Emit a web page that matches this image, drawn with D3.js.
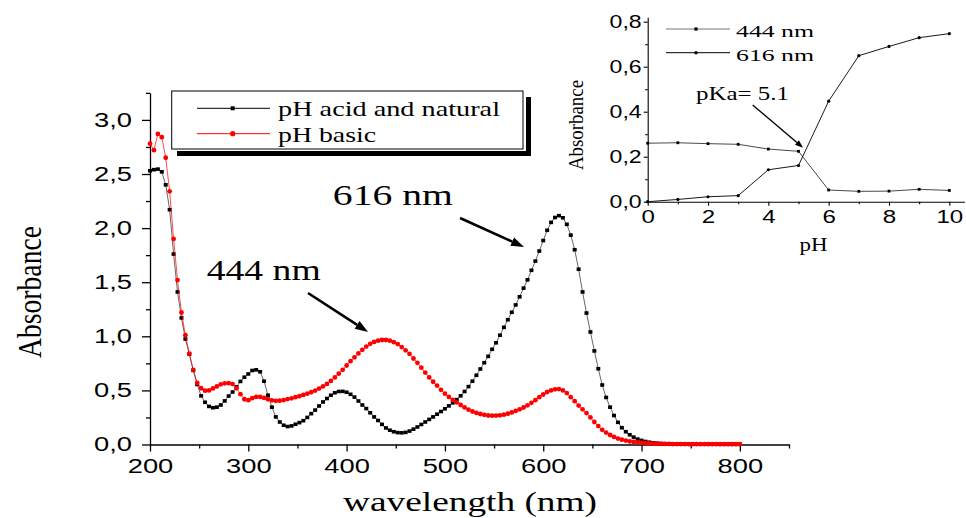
<!DOCTYPE html>
<html><head><meta charset="utf-8">
<script src="https://cdn.jsdelivr.net/npm/d3@7"></script>
<style>body{margin:0;background:#fff} svg{display:block}</style>
</head><body>
<svg id="c" width="966" height="518"></svg>
<script>
// ---------- data (main spectrum, 4 nm steps from 200 to 800 nm) ----------
const wavelengths = d3.range(200, 801, 4);
const acidNatural = [
  2.53, 2.54, 2.545, 2.52, 2.40, 2.17, 1.76, 1.41, 1.17, 0.975,
  0.835, 0.685, 0.555, 0.45, 0.39, 0.352, 0.34, 0.345, 0.365, 0.403,
  0.448, 0.485, 0.533, 0.583, 0.622, 0.652, 0.684, 0.69, 0.672, 0.585,
  0.455, 0.345, 0.255, 0.208, 0.178, 0.166, 0.172, 0.187, 0.202, 0.22,
  0.25, 0.285, 0.318, 0.356, 0.393, 0.425, 0.455, 0.478, 0.49, 0.491,
  0.483, 0.464, 0.438, 0.402, 0.365, 0.332, 0.293, 0.255, 0.222, 0.186,
  0.153, 0.132, 0.118, 0.11, 0.108, 0.112, 0.124, 0.142, 0.162, 0.185,
  0.208, 0.232, 0.255, 0.28, 0.305, 0.33, 0.357, 0.385, 0.415, 0.45,
  0.49, 0.535, 0.585, 0.64, 0.698, 0.756, 0.815, 0.88, 0.94, 1.01,
  1.083, 1.153, 1.222, 1.29, 1.365, 1.445, 1.522, 1.61, 1.695, 1.788,
  1.885, 1.98, 2.053, 2.098, 2.115, 2.095, 2.035, 1.935, 1.80, 1.62,
  1.41, 1.215, 1.04, 0.865, 0.70, 0.55, 0.435, 0.345, 0.268, 0.205,
  0.155, 0.118, 0.09, 0.068, 0.05, 0.038, 0.028, 0.021, 0.016, 0.012,
  0.009, 0.007, 0.006, 0.005, 0.005, 0.004, 0.004, 0.004, 0.003, 0.003,
  0.003, 0.003, 0.003, 0.003, 0.003, 0.002, 0.002, 0.002, 0.002, 0.002,
  0.002
];
const basic = [
  2.78, 2.72, 2.87, 2.84, 2.65, 2.34, 1.90, 1.52, 1.22, 1.01,
  0.84, 0.69, 0.57, 0.52, 0.497, 0.50, 0.518, 0.537, 0.556, 0.565,
  0.567, 0.558, 0.52, 0.465, 0.418, 0.41, 0.428, 0.44, 0.44, 0.43,
  0.418, 0.408, 0.404, 0.405, 0.411, 0.42, 0.427, 0.437, 0.447, 0.458,
  0.47, 0.483, 0.498, 0.517, 0.537, 0.56, 0.588, 0.62, 0.655, 0.69,
  0.73, 0.77, 0.806, 0.842, 0.875, 0.905, 0.93, 0.948, 0.96, 0.966,
  0.966, 0.96, 0.946, 0.928, 0.90, 0.87, 0.838, 0.795, 0.755, 0.71,
  0.665, 0.62, 0.58, 0.545, 0.505, 0.47, 0.44, 0.412, 0.39, 0.365,
  0.343, 0.322, 0.305, 0.292, 0.282, 0.274, 0.268, 0.266, 0.267, 0.27,
  0.276, 0.285, 0.296, 0.31, 0.325, 0.342, 0.362, 0.385, 0.41, 0.437,
  0.462, 0.485, 0.50, 0.51, 0.512, 0.50, 0.475, 0.437, 0.40, 0.36,
  0.325, 0.29, 0.25, 0.208, 0.17, 0.136, 0.11, 0.088, 0.07, 0.055,
  0.045, 0.036, 0.028, 0.023, 0.019, 0.015, 0.012, 0.01, 0.008, 0.007,
  0.006, 0.005, 0.005, 0.004, 0.004, 0.004, 0.004, 0.003, 0.003, 0.003,
  0.003, 0.003, 0.003, 0.003, 0.003, 0.003, 0.003, 0.003, 0.003, 0.003,
  0.003
];
const seriesNames = ["pH acid and natural", "pH basic"];
const xMajorTicks = [200, 300, 400, 500, 600, 700, 800];
const xMinorTicks = [250, 350, 450, 550, 650, 750, 850];
const yMajorTicks = [0, 0.5, 1.0, 1.5, 2.0, 2.5, 3.0];
const yTickLabels = ["0,0", "0,5", "1,0", "1,5", "2,0", "2,5", "3,0"];
const yMinorTicks = [0.25, 0.75, 1.25, 1.75, 2.25, 2.75, 3.25];

// ---------- data (inset: absorbance vs pH) ----------
const pH = [0, 1, 2, 3, 4, 5, 6, 7, 8, 9, 10];
const abs444 = [0.26, 0.262, 0.258, 0.255, 0.234, 0.224, 0.052, 0.046, 0.047, 0.055, 0.05];
const abs616 = [0.0, 0.01, 0.022, 0.027, 0.142, 0.161, 0.447, 0.649, 0.69, 0.729, 0.747];
const insetXTicks = [0, 2, 4, 6, 8, 10];
const insetXMinor = [1, 3, 5, 7, 9];
const insetYTicks = [0, 0.2, 0.4, 0.6, 0.8];
const insetYLabels = ["0,0", "0,2", "0,4", "0,6", "0,8"];
const insetYMinor = [0.1, 0.3, 0.5, 0.7];
const insetNames = ["444 nm", "616 nm"];

const SERIF = "'Liberation Serif','Times New Roman',serif";
const SANS = "'Liberation Sans',Arial,sans-serif";

const svg = d3.select("#c");

function stretch(sel, f) {
  sel.each(function () {
    const w = this.getComputedTextLength();
    this.setAttribute("textLength", (w * f).toFixed(1));
    this.setAttribute("lengthAdjust", "spacingAndGlyphs");
  });
}
function fitLen(sel, len) {
  sel.attr("textLength", len).attr("lengthAdjust", "spacingAndGlyphs");
}

// ---------- main chart ----------
const x = d3.scaleLinear().domain([200, 850]).range([150, 789]);
const y = d3.scaleLinear().domain([0, 3.25]).range([444.5, 92.85]);

function styleAxis(g, sw) {
  g.selectAll("path.domain").attr("stroke", "#000").attr("stroke-width", sw);
  g.selectAll(".tick line").attr("stroke", "#000").attr("stroke-width", sw);
}

const gx = svg.append("g").attr("transform", `translate(0,${y(0)})`)
  .call(d3.axisBottom(x).tickValues(xMajorTicks).tickSize(7).tickSizeOuter(0).tickPadding(8).tickFormat(d => String(d)));
const gxm = svg.append("g").attr("transform", `translate(0,${y(0)})`)
  .call(d3.axisBottom(x).tickValues(xMinorTicks).tickSize(4).tickSizeOuter(0).tickFormat(""));
gxm.select("path.domain").remove();
styleAxis(gx, 1.3); styleAxis(gxm, 1.3);

const gy = svg.append("g").attr("transform", `translate(${x(200)},0)`)
  .call(d3.axisLeft(y).tickValues(yMajorTicks).tickSize(8).tickSizeOuter(0).tickPadding(10)
    .tickFormat((d, i) => yTickLabels[i]));
const gym = svg.append("g").attr("transform", `translate(${x(200)},0)`)
  .call(d3.axisLeft(y).tickValues(yMinorTicks).tickSize(4).tickSizeOuter(0).tickFormat(""));
gym.select("path.domain").remove();
styleAxis(gy, 1.3); styleAxis(gym, 1.3);

[gx, gy].forEach(g => {
  g.selectAll(".tick text").attr("font-family", SANS).attr("font-size", 19.5).attr("fill", "#000");
});
stretch(gx.selectAll(".tick text"), 1.4);
stretch(gy.selectAll(".tick text"), 1.4);

// axis titles
svg.append("text").attr("x", 470).attr("y", 511).attr("text-anchor", "middle")
  .attr("font-family", SERIF).attr("font-size", 27).text("wavelength (nm)")
  .call(s => fitLen(s, 254));
svg.append("text").attr("transform", "translate(41,292) rotate(-90)").attr("text-anchor", "middle")
  .attr("font-family", SERIF).attr("font-size", 34).text("Absorbance")
  .call(s => fitLen(s, 132));

// series
const pts0 = wavelengths.map((w, i) => [w, acidNatural[i]]);
const pts1 = wavelengths.map((w, i) => [w, basic[i]]);
const line = d3.line().x(d => x(d[0])).y(d => y(d[1]));

svg.append("path").datum(pts0).attr("d", line).attr("fill", "none").attr("stroke", "#000").attr("stroke-width", 0.6);
svg.append("g").selectAll("rect").data(pts0).join("rect")
  .attr("x", d => x(d[0]) - 2).attr("y", d => y(d[1]) - 1.8).attr("width", 4).attr("height", 3.6).attr("fill", "#000");

svg.append("path").datum(pts1).attr("d", line).attr("fill", "none").attr("stroke", "#ff0000").attr("stroke-width", 0.7);
svg.append("g").selectAll("circle").data(pts1).join("circle")
  .attr("cx", d => x(d[0])).attr("cy", d => y(d[1])).attr("r", 2.4).attr("fill", "#ff0000");

// annotations
function arrow(g, x1, y1, x2, y2, sw, hl, hw) {
  const a = Math.atan2(y2 - y1, x2 - x1);
  const bx = x2 - hl * Math.cos(a), by = y2 - hl * Math.sin(a);
  g.append("line").attr("x1", x1).attr("y1", y1).attr("x2", bx).attr("y2", by)
    .attr("stroke", "#000").attr("stroke-width", sw);
  const px = -Math.sin(a) * hw / 2, py = Math.cos(a) * hw / 2;
  g.append("path").attr("d", `M${x2},${y2}L${bx + px},${by + py}L${bx - px},${by - py}Z`).attr("fill", "#000");
}
svg.append("text").attr("x", x(257.7)).attr("y", y(1.52)).attr("font-family", SERIF).attr("font-size", 30)
  .text("444 nm").call(s => fitLen(s, 114));
svg.append("text").attr("x", x(386)).attr("y", y(2.21)).attr("font-family", SERIF).attr("font-size", 30)
  .text("616 nm").call(s => fitLen(s, 120));
arrow(svg, x(360.7), y(1.40), x(421.8), y(1.04), 2.6, 13, 9);
arrow(svg, x(515.4), y(2.093), x(580.5), y(1.825), 2.6, 13, 9);

// legend
const lg = svg.append("g");
lg.append("rect").attr("x", 177).attr("y", 151).attr("width", 354).attr("height", 5).attr("fill", "#000");
lg.append("rect").attr("x", 526).attr("y", 97).attr("width", 5).attr("height", 59).attr("fill", "#000");
lg.append("rect").attr("x", 171.7).attr("y", 91).attr("width", 351.3).attr("height", 58)
  .attr("fill", "#fff").attr("stroke", "#000").attr("stroke-width", 1);
lg.append("line").attr("x1", 197).attr("x2", 270).attr("y1", 108.3).attr("y2", 108.3).attr("stroke", "#000").attr("stroke-width", 1);
lg.append("rect").attr("x", 232.7 - 2).attr("y", 108.3 - 2).attr("width", 4).attr("height", 4).attr("fill", "#000");
lg.append("line").attr("x1", 197).attr("x2", 270).attr("y1", 133.7).attr("y2", 133.7).attr("stroke", "#ff0000").attr("stroke-width", 1);
lg.append("circle").attr("cx", 232.7).attr("cy", 133.7).attr("r", 2.6).attr("fill", "#ff0000");
lg.append("text").attr("x", 278).attr("y", 116).attr("font-family", SERIF).attr("font-size", 21.5)
  .text(seriesNames[0]).call(s => fitLen(s, 222));
lg.append("text").attr("x", 278).attr("y", 141.5).attr("font-family", SERIF).attr("font-size", 21.5)
  .text(seriesNames[1]).call(s => fitLen(s, 98));

// ---------- inset ----------
const ix = d3.scaleLinear().domain([0, 10.5]).range([647.7, 964.4]);
const iy = d3.scaleLinear().domain([0, 0.82]).range([201.7, 17.2]);

const igx = svg.append("g").attr("transform", `translate(0,${iy(0)})`)
  .call(d3.axisBottom(ix).tickValues(insetXTicks).tickSize(4).tickSizeOuter(0).tickPadding(4).tickFormat(d => String(d)));
const igxm = svg.append("g").attr("transform", `translate(0,${iy(0)})`)
  .call(d3.axisBottom(ix).tickValues(insetXMinor).tickSize(2.5).tickSizeOuter(0).tickFormat(""));
igxm.select("path.domain").remove();
const igy = svg.append("g").attr("transform", `translate(${ix(0)},0)`)
  .call(d3.axisLeft(iy).tickValues(insetYTicks).tickSize(4).tickSizeOuter(0).tickPadding(2)
    .tickFormat((d, i) => insetYLabels[i]));
const igym = svg.append("g").attr("transform", `translate(${ix(0)},0)`)
  .call(d3.axisLeft(iy).tickValues(insetYMinor).tickSize(2.5).tickSizeOuter(0).tickFormat(""));
igym.select("path.domain").remove();
[igx, igxm, igy, igym].forEach(g => styleAxis(g, 1.1));
[igx, igy].forEach(g => g.selectAll(".tick text").attr("font-family", SANS).attr("font-size", 18.5).attr("fill", "#000"));
stretch(igx.selectAll(".tick text"), 1.3);
stretch(igy.selectAll(".tick text"), 1.25);

svg.append("text").attr("x", ix(5.5)).attr("y", 251).attr("text-anchor", "middle")
  .attr("font-family", SERIF).attr("font-size", 19).text("pH").call(s => fitLen(s, 28));
svg.append("text").attr("transform", "translate(583,125) rotate(-90)").attr("text-anchor", "middle")
  .attr("font-family", SERIF).attr("font-size", 21).text("Absorbance").call(s => fitLen(s, 90));

const ip0 = pH.map((p, i) => [p, abs444[i]]);
const ip1 = pH.map((p, i) => [p, abs616[i]]);
const iline = d3.line().x(d => ix(d[0])).y(d => iy(d[1]));
svg.append("path").datum(ip0).attr("d", iline).attr("fill", "none").attr("stroke", "#333").attr("stroke-width", 0.9);
svg.append("g").selectAll("rect").data(ip0).join("rect")
  .attr("x", d => ix(d[0]) - 1.4).attr("y", d => iy(d[1]) - 1.4).attr("width", 2.8).attr("height", 2.8).attr("fill", "#000");
svg.append("path").datum(ip1).attr("d", iline).attr("fill", "none").attr("stroke", "#000").attr("stroke-width", 0.9);
svg.append("g").selectAll("circle").data(ip1).join("circle")
  .attr("cx", d => ix(d[0])).attr("cy", d => iy(d[1])).attr("r", 1.6).attr("fill", "#000");

// inset legend
const il = svg.append("g");
il.append("line").attr("x1", 666).attr("x2", 730).attr("y1", 29).attr("y2", 29).attr("stroke", "#777").attr("stroke-width", 1.2);
il.append("rect").attr("x", 696 - 1.6).attr("y", 29 - 1.6).attr("width", 3.2).attr("height", 3.2).attr("fill", "#000");
il.append("line").attr("x1", 666).attr("x2", 730).attr("y1", 52.7).attr("y2", 52.7).attr("stroke", "#000").attr("stroke-width", 1);
il.append("circle").attr("cx", 696).attr("cy", 52.7).attr("r", 1.7).attr("fill", "#000");
il.append("text").attr("x", 736).attr("y", 36.5).attr("font-family", SERIF).attr("font-size", 17.5)
  .text(insetNames[0]).call(s => fitLen(s, 78));
il.append("text").attr("x", 736).attr("y", 60.5).attr("font-family", SERIF).attr("font-size", 17.5)
  .text(insetNames[1]).call(s => fitLen(s, 78));

svg.append("text").attr("x", ix(1.6)).attr("y", iy(0.452)).attr("font-family", SERIF).attr("font-size", 18)
  .text("pKa= 5.1").call(s => fitLen(s, 93));
arrow(svg, ix(3.48), iy(0.43), ix(5.15), iy(0.24), 1.4, 8, 6);
</script>
</body></html>
